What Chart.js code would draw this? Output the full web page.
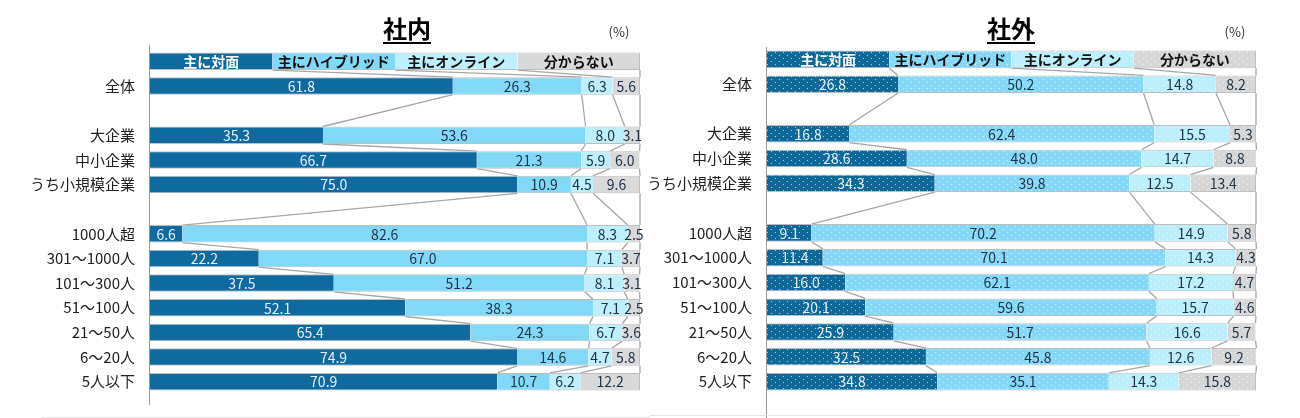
<!DOCTYPE html>
<html lang="ja">
<head>
<meta charset="utf-8">
<title>社内・社外</title>
<script src="https://cdn.jsdelivr.net/npm/chart.js@4.4.1/dist/chart.umd.min.js"></script>
<style>
    html, body { margin: 0; padding: 0; background: #fff; }
    body { width: 1300px; height: 418px; position: relative; overflow: hidden; }
    .panel { position: absolute; top: 0; width: 650px; height: 418px; }
    #leftPanel { left: 0; }
    #rightPanel { left: 650px; }
</style>
</head>
<body>
<div class="panel" id="leftPanel"><canvas id="naiChart"></canvas></div>
<div class="panel" id="rightPanel"><canvas id="gaiChart"></canvas></div>
<script>
// row 0 is the legend strip, '' rows are blank spacers
var categories = ['', '全体', '', '大企業', '中小企業', 'うち小規模企業', '', '1000人超', '301～1000人', '101～300人', '51～100人', '21～50人', '6～20人', '5人以下'];
var seriesNames = ['主に対面', '主にハイブリッド', '主にオンライン', '分からない'];
var legendRow = [25, 25, 25, 25];

// 社内 (%)
var naiTaimen = [61.8, null, 35.3, 66.7, 75.0, null, 6.6, 22.2, 37.5, 52.1, 65.4, 74.9, 70.9];
var naiHybrid = [26.3, null, 53.6, 21.3, 10.9, null, 82.6, 67.0, 51.2, 38.3, 24.3, 14.6, 10.7];
var naiOnline = [6.3, null, 8.0, 5.9, 4.5, null, 8.3, 7.1, 8.1, 7.1, 6.7, 4.7, 6.2];
var naiUnknown = [5.6, null, 3.1, 6.0, 9.6, null, 2.5, 3.7, 3.1, 2.5, 3.6, 5.8, 12.2];

// 社外 (%)
var gaiTaimen = [26.8, null, 16.8, 28.6, 34.3, null, 9.1, 11.4, 16.0, 20.1, 25.9, 32.5, 34.8];
var gaiHybrid = [50.2, null, 62.4, 48.0, 39.8, null, 70.2, 70.1, 62.1, 59.6, 51.7, 45.8, 35.1];
var gaiOnline = [14.8, null, 15.5, 14.7, 12.5, null, 14.9, 14.3, 17.2, 15.7, 16.6, 12.6, 14.3];
var gaiUnknown = [8.2, null, 5.3, 8.8, 13.4, null, 5.8, 4.3, 4.7, 4.6, 5.7, 9.2, 15.8];

var FONT = '"Noto Sans CJK JP", "Noto Sans", sans-serif';

function dotted(base) {
    var c = document.createElement('canvas');
    c.width = 8; c.height = 6;
    var g = c.getContext('2d');
    g.fillStyle = base;
    g.fillRect(0, 0, 8, 6);
    g.fillStyle = 'rgba(255,255,255,0.7)';
    g.fillRect(1, 1, 1, 1);
    g.fillRect(5, 4, 1, 1);
    return g.createPattern(c, 'repeat');
}

// series lines, axis line, value labels, legend text, title
var panelDecor = {
    id: 'panelDecor',
    beforeDatasetsDraw: function (chart) {
        var ctx = chart.ctx;
        var first = chart.data.datasets[0].data;
        var rows = [];
        for (var i = 0; i < first.length; i++) {
            if (first[i] != null) rows.push(i);
        }
        ctx.save();
        ctx.strokeStyle = '#A6A6A6';
        ctx.lineWidth = 1.3;
        for (var r = 0; r < rows.length - 1; r++) {
            chart.data.datasets.forEach(function (ds, k) {
                var m = chart.getDatasetMeta(k);
                var ea = m.data[rows[r]], eb = m.data[rows[r + 1]];
                ctx.beginPath();
                ctx.moveTo(ea.x, ea.y + ea.height / 2);
                ctx.lineTo(eb.x, eb.y - eb.height / 2);
                ctx.stroke();
            });
        }
        ctx.restore();
    },
    afterDatasetsDraw: function (chart, args, opts) {
        var ctx = chart.ctx;
        ctx.save();
        ctx.textAlign = 'center';
        ctx.textBaseline = 'middle';
        chart.data.datasets.forEach(function (ds, k) {
            var m = chart.getDatasetMeta(k);
            m.data.forEach(function (el, i) {
                var v = ds.data[i];
                if (v == null) return;
                var cx = (el.x + el.base) / 2;
                if (i === 0) {
                    ctx.font = 'bold 14px ' + FONT;
                    ctx.fillStyle = k === 0 ? '#FFFFFF' : '#111111';
                    ctx.fillText(seriesNames[k], cx, el.y);
                } else {
                    ctx.font = '14px ' + FONT;
                    ctx.fillStyle = k === 0 ? '#E6F0F8' : '#1E3246';
                    ctx.fillText(v.toFixed(1), cx, el.y + 0.5);
                }
            });
        });

        // axis line
        var x0 = chart.chartArea.left;
        ctx.strokeStyle = '#9A9A9A';
        ctx.lineWidth = 1;
        ctx.beginPath();
        ctx.moveTo(x0 - 0.5, opts.axisTop);
        ctx.lineTo(x0 - 0.5, opts.axisBottom);
        ctx.stroke();

        // faint foot line
        ctx.strokeStyle = '#E4E4E4';
        ctx.beginPath();
        ctx.moveTo(opts.foot[0], opts.foot[2]);
        ctx.lineTo(opts.foot[1], opts.foot[2]);
        ctx.stroke();

        // title with underline
        ctx.fillStyle = '#000';
        ctx.font = 'bold 24px ' + FONT;
        ctx.fillText(opts.title, opts.titleX, 29);
        var w = ctx.measureText(opts.title).width;
        ctx.strokeStyle = '#000';
        ctx.lineWidth = 2;
        ctx.beginPath();
        ctx.moveTo(opts.titleX - w / 2, 43);
        ctx.lineTo(opts.titleX + w / 2, 43);
        ctx.stroke();

        ctx.font = '13px ' + FONT;
        ctx.fillStyle = '#333';
        ctx.fillText('(%)', opts.unitX, 32);
        ctx.restore();
    }
};

function makeChart(id, series, colors, cfg) {
    var datasets = series.map(function (values, k) {
        return {
            label: seriesNames[k],
            data: [legendRow[k]].concat(values),
            backgroundColor: cfg.pattern ? dotted(colors[k]) : colors[k],
            borderColor: '#BEBEBE',
            borderWidth: { top: 1, bottom: 1, left: 0, right: k === 3 ? 1 : 0 },
            borderSkipped: false,
            barPercentage: 0.71,
            categoryPercentage: 1.0
        };
    });
    return new Chart(document.getElementById(id).getContext('2d'), {
        type: 'bar',
        data: { labels: categories, datasets: datasets },
        options: {
            indexAxis: 'y',
            responsive: true,
            maintainAspectRatio: false,
            animation: false,
            layout: { padding: cfg.padding },
            scales: {
                x: { stacked: true, min: 0, max: 100, display: false },
                y: {
                    stacked: true,
                    grid: { display: false, drawTicks: false },
                    border: { display: false },
                    ticks: {
                        autoSkip: false,
                        padding: 15,
                        color: '#222222',
                        font: { family: FONT, size: 15 }
                    },
                    afterFit: function (scale) { scale.width = cfg.axisWidth; }
                }
            },
            plugins: {
                legend: { display: false },
                tooltip: { enabled: false },
                panelDecor: cfg.decor
            }
        },
        plugins: [panelDecor]
    });
}

function build() {
    makeChart('naiChart', [naiTaimen, naiHybrid, naiOnline, naiUnknown],
        ['#0F6A9F', '#82D8F7', '#BDEFFC', '#D9D9D9'], {
            pattern: false,
            axisWidth: 150,
            padding: { top: 49, bottom: 13, left: 0, right: 10 },
            decor: { title: '社内', titleX: 407, unitX: 619, axisTop: 45, axisBottom: 405, foot: [42, 650, 417.5] }
        });
    makeChart('gaiChart', [gaiTaimen, gaiHybrid, gaiOnline, gaiUnknown],
        ['#0E6898', '#86D8F6', '#BCEFFB', '#D6D6D6'], {
            pattern: true,
            axisWidth: 117,
            padding: { top: 47, bottom: 19, left: 0, right: 44 },
            decor: { title: '社外', titleX: 361, unitX: 585, axisTop: 47, axisBottom: 418, foot: [0, 590, 415.5] }
        });
}

Promise.all([
    document.fonts.load('15px "Noto Sans CJK JP"'),
    document.fonts.load('bold 14px "Noto Sans CJK JP"')
]).then(build, build);
</script>
</body>
</html>
